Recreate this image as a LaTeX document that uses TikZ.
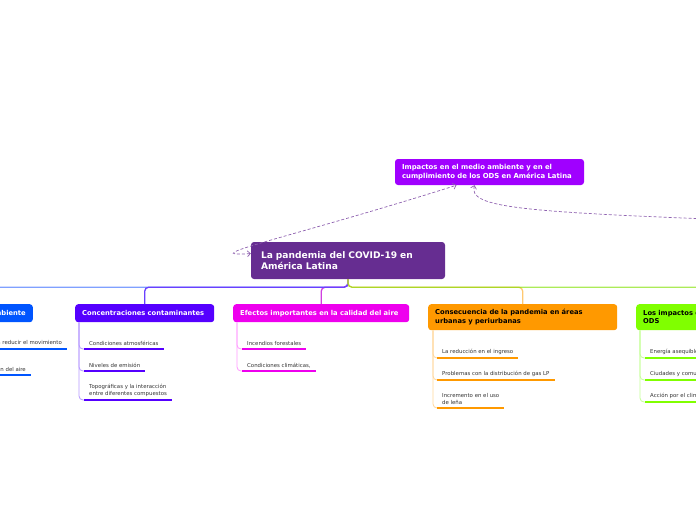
\documentclass[tikz,border=0pt]{standalone}
\usepackage{fontspec}
\setmainfont{DejaVu Sans}
\usetikzlibrary{arrows.meta}
\definecolor{rootc}{HTML}{662D91}
\definecolor{topc}{HTML}{A000FF}
\definecolor{bluec}{HTML}{0055FF}
\definecolor{violetc}{HTML}{5500FF}
\definecolor{magc}{HTML}{EE00EE}
\definecolor{orangec}{HTML}{FF9900}
\definecolor{greenc}{HTML}{80FF00}
\definecolor{bluel}{HTML}{7FA0FF}
\definecolor{violetl}{HTML}{6A40FF}
\definecolor{magl}{HTML}{D040E0}
\definecolor{orangel}{HTML}{FFC870}
\definecolor{greenl}{HTML}{80E000}
\definecolor{bluet}{HTML}{90B0FF}
\definecolor{violett}{HTML}{B598FF}
\definecolor{magt}{HTML}{FF99FF}
\definecolor{oranget}{HTML}{FFD69A}
\definecolor{greent}{HTML}{C4FF96}
\definecolor{linkc}{HTML}{8F62B0}
\begin{document}
\begin{tikzpicture}[x=1pt, y=-1pt,
        rootbox/.style={rectangle, rounded corners=3pt, fill=rootc, text=white, font=\bfseries\fontsize{9.1}{11}\selectfont, align=left, text width=174pt, inner xsep=10pt, minimum height=37pt},
        topbox/.style={rectangle, rounded corners=3pt, fill=topc, text=white, font=\bfseries\fontsize{6.9}{9}\selectfont, align=left, text width=175pt, inner xsep=7pt, minimum height=26pt},
        catbox/.style={rectangle, rounded corners=3pt, font=\bfseries\fontsize{6.75}{8.5}\selectfont, align=left, inner xsep=7pt, inner ysep=0pt, minimum height=18pt, anchor=north west},
        leaf/.style={font=\fontsize{5.4}{7}\selectfont, text=black!80, align=left, inner xsep=5pt, inner ysep=3pt, anchor=south west},
        bus/.style={line width=1.3pt, rounded corners=4pt},
        twig/.style={line width=0.8pt, rounded corners=4pt},
        uline/.style={line width=2.6pt},
        link/.style={draw=linkc, dash pattern=on 3pt off 2pt, line width=0.7pt},
        ]
        \useasboundingbox (0,0) rectangle (696,520);
        \clip (0,0) rectangle (696,520);

        \node (root) at (348,260.5) [rootbox] {La pandemia del COVID-19 en\\América Latina};
        \node (topn) at (489.5,172) [topbox] {Impactos en el medio ambiente y en el\\cumplimiento de los ODS en América Latina};
        \coordinate (offr) at (760,221);

        \node (medio) at (33,304) [catbox, anchor=north east, fill=bluec, text=white] {Medio ambiente};
        \node (conc) at (75,304) [catbox, fill=violetc, text=white, text width=125pt] {Concentraciones contaminantes};
        \node (efec) at (233,304) [catbox, fill=magc, text=white, text width=162pt] {Efectos importantes en la calidad del aire};
        \node (cons) at (428,304) [catbox, fill=orangec, text=black, text width=175pt, minimum height=26pt] {Consecuencia de la pandemia en áreas\\urbanas y periurbanas};
        \node (ods) at (636,304) [catbox, fill=greenc, text=black, text width=175pt, minimum height=26pt] {Los impactos de la pandemia en los\\ODS};

        \draw[link, {Straight Barb[length=3pt]}-{Straight Barb[length=3pt]}] ([yshift=7pt]root.west) .. controls (190,258) and (300,235) .. ([xshift=-33pt]topn.south);
        \draw[link, {Straight Barb[length=3pt]}-] ([xshift=-15pt]topn.south) .. controls (468,208) and (520,212) .. (offr);

        \draw[bus, draw=bluel] (root.south) -- ++(0,8) -| (medio.north);
        \draw[bus, draw=magl] (root.south) -- ++(0,8) -| (efec.north);
        \draw[bus, draw=violetl] (root.south) -- ++(0,8) -| (conc.north);
        \draw[bus, draw=orangel] (root.south) -- ++(0,8) -| (cons.north);
        \draw[bus, draw=greenl, draw opacity=0.65] (root.south) -- ++(0,8) -| (ods.north);

        \node (mv) at (67,349) [leaf, anchor=south east] {Medidas para reducir el movimiento};
        \node (ca) at (31,375) [leaf, anchor=south east] {Contaminación del aire};
        \draw[twig, draw=bluet] ([xshift=4pt]medio.south west) |- (mv.south west);
        \draw[twig, draw=bluet] ([xshift=4pt]medio.south west) |- (ca.south west);
        \draw[uline, draw=bluec] (mv.south west) -- (mv.south east);
        \draw[uline, draw=bluec] (ca.south west) -- (ca.south east);

        \node (atm) at (84,349) [leaf] {Condiciones atmosféricas};
        \node (emi) at (84,371) [leaf] {Niveles de emisión};
        \node (topo) at (84,400) [leaf] {Topográficas y la interacción\\entre diferentes compuestos};
        \draw[twig, draw=violett] ([xshift=4pt]conc.south west) |- (atm.south west);
        \draw[twig, draw=violett] ([xshift=4pt]conc.south west) |- (emi.south west);
        \draw[twig, draw=violett] ([xshift=4pt]conc.south west) |- (topo.south west);
        \draw[uline, draw=violetc] (atm.south west) -- (atm.south east);
        \draw[uline, draw=violetc] (emi.south west) -- (emi.south east);
        \draw[uline, draw=violetc] (topo.south west) -- (topo.south east);

        \node (inc) at (242,349) [leaf] {Incendios forestales};
        \node (clim) at (242,371) [leaf] {Condiciones climáticas,};
        \draw[twig, draw=magt] ([xshift=4pt]efec.south west) |- (inc.south west);
        \draw[twig, draw=magt] ([xshift=4pt]efec.south west) |- (clim.south west);
        \draw[uline, draw=magc] (inc.south west) -- (inc.south east);
        \draw[uline, draw=magc] (clim.south west) -- (clim.south east);

        \node (ingr) at (437,358) [leaf] {La reducción en el ingreso};
        \node (gas) at (437,380) [leaf] {Problemas con la distribución de gas LP};
        \node (lena) at (437,408) [leaf] {Incremento en el uso\\de leña};
        \draw[twig, draw=oranget] ([xshift=5pt]cons.south west) |- (ingr.south west);
        \draw[twig, draw=oranget] ([xshift=5pt]cons.south west) |- (gas.south west);
        \draw[twig, draw=oranget] ([xshift=5pt]cons.south west) |- (lena.south west);
        \draw[uline, draw=orangec] (ingr.south west) -- (ingr.south east);
        \draw[uline, draw=orangec] (gas.south west) -- (gas.south east);
        \draw[uline, draw=orangec] (lena.south west) -- (lena.south east);

        \node (ener) at (645,358) [leaf] {Energía asequible y no contaminante};
        \node (ciud) at (645,380) [leaf] {Ciudades y comunidades sostenibles};
        \node (acc) at (645,402) [leaf] {Acción por el clima};
        \draw[twig, draw=greent] ([xshift=4pt]ods.south west) |- (ener.south west);
        \draw[twig, draw=greent] ([xshift=4pt]ods.south west) |- (ciud.south west);
        \draw[twig, draw=greent] ([xshift=4pt]ods.south west) |- (acc.south west);
        \draw[uline, draw=greenc] (ener.south west) -- (ener.south east);
        \draw[uline, draw=greenc] (ciud.south west) -- (ciud.south east);
        \draw[uline, draw=greenc] (acc.south west) -- (acc.south east);
    \end{tikzpicture}
\end{document}
